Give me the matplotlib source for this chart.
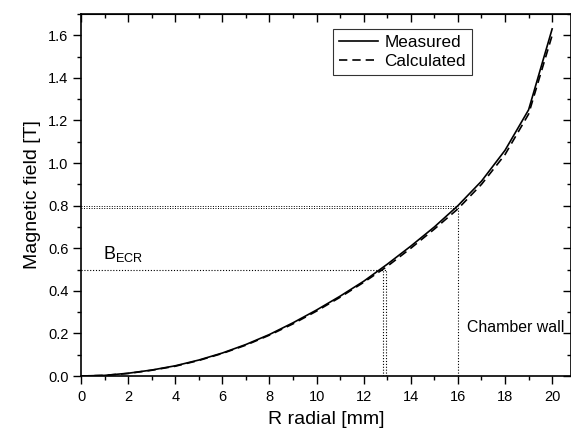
import matplotlib
matplotlib.use("Agg")
import matplotlib.pyplot as plt
from matplotlib.ticker import MultipleLocator

# ── Data ─────────────────────────────────────────────
r_mm = [0, 1, 2, 3, 4, 5, 6, 7, 8, 9, 10, 11, 12, 13, 14, 15, 16, 17, 18, 19, 20]
b_measured = [0.0, 0.003, 0.013, 0.028, 0.048, 0.075, 0.108, 0.148, 0.195, 0.25,
              0.31, 0.375, 0.445, 0.525, 0.61, 0.70, 0.80, 0.915, 1.06, 1.25, 1.63]
b_calculated = [0.0, 0.003, 0.012, 0.027, 0.046, 0.073, 0.106, 0.145, 0.192, 0.245,
                0.305, 0.37, 0.44, 0.515, 0.60, 0.69, 0.785, 0.90, 1.04, 1.23, 1.60]

b_ecr = 0.5
r_ecr = [12.8, 12.95]
r_wall = 16
b_wall = [0.80, 0.79]
# ─────────────────────────────────────────────────────

plt.rcParams["font.family"] = ["Liberation Sans", "DejaVu Sans"]
plt.rcParams["mathtext.fontset"] = "custom"
plt.rcParams["mathtext.rm"] = "Liberation Sans"

fig = plt.figure(figsize=(5.71, 4.32), dpi=100)
ax = fig.add_axes([0.1419, 0.1296, 1.0 - 0.1419, 0.9676 - 0.1296])

ax.plot(r_mm, b_measured, "k-", lw=1.2, label="Measured")
ax.plot(r_mm, b_calculated, "k", ls=(0, (5, 3)), lw=1.2, label="Calculated")

dot = (0, (1, 1.6))
# ECR resonance guide lines
ax.plot([0, max(r_ecr)], [b_ecr, b_ecr], color="k", ls=dot, lw=0.8)
for r in r_ecr:
    ax.plot([r, r], [0, b_ecr], color="k", ls=dot, lw=0.8)
# chamber wall guide lines
for b in b_wall:
    ax.plot([0, r_wall], [b, b], color="k", ls=dot, lw=0.7)
ax.plot([r_wall, r_wall], [0, max(b_wall)], color="k", ls=dot, lw=0.8)

ax.text(0.95, 0.55, r"B$_{\mathregular{ECR}}$", fontsize=13, va="baseline")
ax.text(16.4, 0.23, "Chamber wall", fontsize=11.4, va="center")

ax.set_xlim(0, 20.8)
ax.set_ylim(0, 1.7)
ax.xaxis.set_major_locator(MultipleLocator(2))
ax.xaxis.set_minor_locator(MultipleLocator(1))
ax.yaxis.set_major_locator(MultipleLocator(0.2))
ax.yaxis.set_minor_locator(MultipleLocator(0.1))
ax.yaxis.set_major_formatter(plt.FormatStrFormatter("%.1f"))

ax.tick_params(which="both", direction="out", top=False, right=False,
               labelsize=10.5, width=1)
ax.tick_params(which="major", length=5.5)
ax.tick_params(which="minor", length=3)
ax.tick_params(axis="x", which="major", pad=4.5)
ax.tick_params(axis="y", which="major", pad=3.5)

# top and right ticks point inwards
sec_x = ax.secondary_xaxis("top")
sec_x.xaxis.set_major_locator(MultipleLocator(2))
sec_x.xaxis.set_minor_locator(MultipleLocator(1))
sec_x.tick_params(which="both", direction="in", labeltop=False, width=1)
sec_x.tick_params(which="major", length=5.5)
sec_x.tick_params(which="minor", length=3)
sec_y = ax.secondary_yaxis("right")
sec_y.yaxis.set_major_locator(MultipleLocator(0.2))
sec_y.yaxis.set_minor_locator(MultipleLocator(0.1))
sec_y.tick_params(which="both", direction="in", labelright=False, width=1)
sec_y.tick_params(which="major", length=5.5)
sec_y.tick_params(which="minor", length=3)

for sp in ax.spines.values():
    sp.set_linewidth(1.2)

ax.set_xlabel("R radial [mm]", fontsize=14, labelpad=5)
ax.set_ylabel("Magnetic field [T]", fontsize=14, labelpad=5)

leg = ax.legend(loc="upper left", bbox_to_anchor=(0.515, 0.958), fontsize=12.3,
                frameon=True, fancybox=False, edgecolor="k", handlelength=2.25,
                borderpad=0.35, labelspacing=0.25, handletextpad=0.4,
                borderaxespad=0)
leg.get_frame().set_linewidth(0.8)

fig.savefig("out.png", dpi=100)
